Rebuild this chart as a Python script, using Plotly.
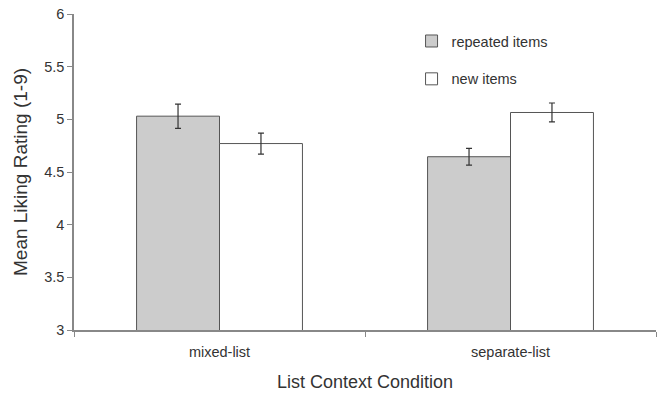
import plotly.graph_objects as go

categories = ["mixed-list", "separate-list"]
repeated_vals = [5.03, 4.645]
repeated_err = [0.115, 0.08]
new_vals = [4.77, 5.065]
new_err = [0.10, 0.09]
y_ticks = [3, 3.5, 4, 4.5, 5, 5.5, 6]
y_tick_labels = ["3", "3.5", "4", "4.5", "5", "5.5", "6"]

fig = go.Figure()
fig.add_trace(go.Bar(
    x=categories, y=repeated_vals, name="repeated items", legendgroup="a",
    marker=dict(color="#cccccc", line=dict(color="#555555", width=1)),
    error_y=dict(type="data", array=repeated_err, color="#333333", thickness=1.2, width=3),
))
fig.add_trace(go.Bar(
    x=categories, y=new_vals, name="new items", legendgroup="b",
    marker=dict(color="#ffffff", line=dict(color="#555555", width=1)),
    error_y=dict(type="data", array=new_err, color="#333333", thickness=1.2, width=3),
))

fig.update_layout(
    width=660, height=394,
    margin=dict(l=74, r=4, t=14, b=64),
    paper_bgcolor="white", plot_bgcolor="white",
    barmode="group", bargap=0.43, bargroupgap=0,
    font=dict(family="Liberation Sans, Arial, sans-serif", color="#333333", size=14.5),
    showlegend=True,
    legend=dict(x=0.58, y=0.965, xanchor="left", yanchor="top",
                bgcolor="rgba(0,0,0,0)", tracegroupgap=16,
                font=dict(size=14.5, color="#333333"), itemwidth=30),
    xaxis=dict(
        showline=True, linecolor="#888888", linewidth=1.5,
        ticks="outside", tickson="boundaries", ticklen=5, tickcolor="#888888",
        tickfont=dict(size=14.5, color="#333333"), ticklabelstandoff=8,
        title=dict(text="List Context Condition", font=dict(size=18, color="#333333"), standoff=16),
    ),
    yaxis=dict(
        range=[3, 6], tickvals=y_ticks, ticktext=y_tick_labels,
        showline=True, linecolor="#888888", linewidth=1.5,
        ticks="outside", ticklen=5, tickcolor="#888888", showgrid=False, zeroline=False,
        tickfont=dict(size=14.5, color="#333333"),
        title=dict(text="Mean Liking Rating (1-9)", font=dict(size=19, color="#333333"), standoff=12),
    ),
)

fig.write_html("out.html", config={"displayModeBar": False},
               post_script="document.body.style.margin='0';")
